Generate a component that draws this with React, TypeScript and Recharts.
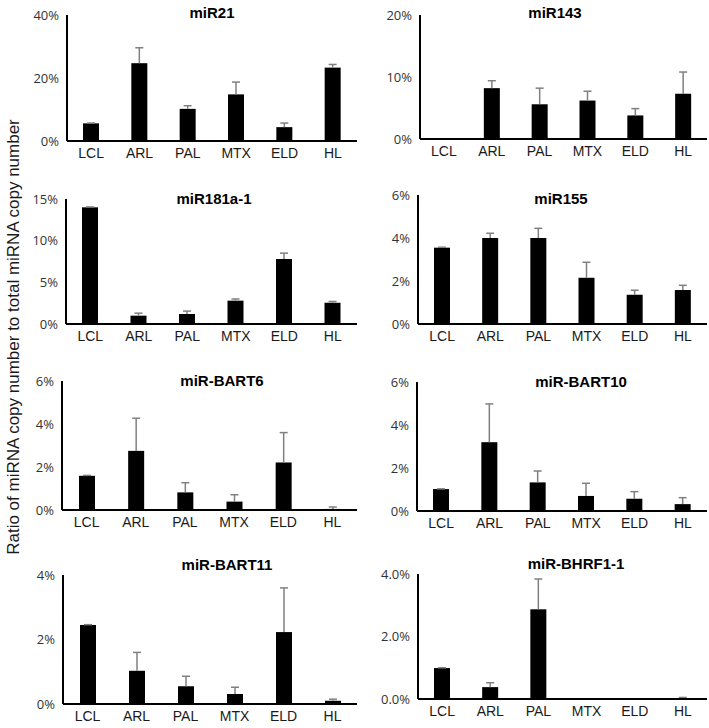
import React from "react"
import { Bar, BarChart, XAxis, YAxis } from "recharts"

const categories = ["LCL", "ARL", "PAL", "MTX", "ELD", "HL"]

// mean ratio (%) and upper error (SD, %) per cell line
const miR21 = [5.6, 24.7, 10.2, 14.8, 4.4, 23.3]
const miR21Err = [0.1, 4.9, 1.0, 3.9, 1.3, 1.0]
const miR143 = [0, 8.2, 5.6, 6.2, 3.8, 7.3]
const miR143Err = [0, 1.2, 2.6, 1.5, 1.1, 3.5]
const miR181a1 = [14.0, 1.0, 1.2, 2.8, 7.8, 2.55]
const miR181a1Err = [0.05, 0.3, 0.35, 0.2, 0.7, 0.15]
const miR155 = [3.55, 4.0, 4.0, 2.15, 1.36, 1.58]
const miR155Err = [0.02, 0.22, 0.45, 0.72, 0.21, 0.22]
const bart6 = [1.59, 2.75, 0.82, 0.39, 2.21, 0.05]
const bart6Err = [0.02, 1.52, 0.45, 0.32, 1.39, 0.09]
const bart10 = [1.02, 3.2, 1.33, 0.7, 0.57, 0.32]
const bart10Err = [0.01, 1.78, 0.53, 0.59, 0.33, 0.3]
const bart11 = [2.45, 1.03, 0.55, 0.31, 2.23, 0.1]
const bart11Err = [0.01, 0.57, 0.31, 0.21, 1.37, 0.05]
const bhrf1 = [0.99, 0.38, 2.87, 0, 0, 0.02]
const bhrf1Err = [0.01, 0.14, 0.97, 0, 0, 0.03]

const ticks40 = [0, 20, 40]
const ticks20 = [0, 10, 20]
const ticks15 = [0, 5, 10, 15]
const ticks6 = [0, 2, 4, 6]
const ticks4 = [0, 2, 4]

const panels = [
  { title: "miR21", values: miR21, errs: miR21Err, ticks: ticks40, digits: 0 },
  { title: "miR143", values: miR143, errs: miR143Err, ticks: ticks20, digits: 0 },
  { title: "miR181a-1", values: miR181a1, errs: miR181a1Err, ticks: ticks15, digits: 0 },
  { title: "miR155", values: miR155, errs: miR155Err, ticks: ticks6, digits: 0 },
  { title: "miR-BART6", values: bart6, errs: bart6Err, ticks: ticks6, digits: 0 },
  { title: "miR-BART10", values: bart10, errs: bart10Err, ticks: ticks6, digits: 0 },
  { title: "miR-BART11", values: bart11, errs: bart11Err, ticks: ticks4, digits: 0 },
  { title: "miR-BHRF1-1", values: bhrf1, errs: bhrf1Err, ticks: ticks4, digits: 1 },
]

// plot box of each panel on the page: left, right, top (max tick), zero line, title centre
const layout = [
  { left: 67, right: 357, top: 15, zero: 141, tx: 212, ty: 12 },
  { left: 420, right: 707, top: 15, zero: 139, tx: 555, ty: 12 },
  { left: 66, right: 357, top: 199, zero: 324, tx: 214, ty: 198 },
  { left: 418, right: 707, top: 195, zero: 324, tx: 561, ty: 198 },
  { left: 62, right: 357, top: 381, zero: 510, tx: 222, ty: 380 },
  { left: 417, right: 707, top: 382, zero: 511, tx: 581, ty: 381 },
  { left: 63, right: 357, top: 575, zero: 704, tx: 227, ty: 564 },
  { left: 418, right: 707, top: 574, zero: 699, tx: 576, ty: 563 },
]

const Y_AXIS_W = 50
const TOP_PAD = 10
const X_AXIS_H = 28

// bar plus an upward-only error whisker
const BarWithError = (props: any) => {
  const { x, y, width, height, payload } = props
  const v = payload.v
  const e = payload.e
  const cx = x + width / 2
  let whisker = null
  if (v > 0 && e > 0) {
    const top = y - (e * height) / v
    whisker = (
      <g stroke="#808080" strokeWidth={1.5}>
        <line x1={cx} y1={y} x2={cx} y2={top} />
        <line x1={cx - 4} y1={top} x2={cx + 4} y2={top} />
      </g>
    )
  }
  return (
    <g>
      {height > 0 && <rect x={x} y={y} width={width} height={height} fill="#000" />}
      {whisker}
    </g>
  )
}

function Panel({ p, l }: { p: (typeof panels)[number]; l: (typeof layout)[number] }) {
  const data = categories.map((c, i) => ({ c, v: p.values[i], e: p.errs[i] }))
  const max = p.ticks[p.ticks.length - 1]
  const plotH = l.zero - l.top
  return (
    <>
      <div
        style={{
          position: "absolute",
          left: l.left - Y_AXIS_W,
          top: l.top - TOP_PAD,
        }}
      >
        <BarChart
          width={Y_AXIS_W + l.right - l.left}
          height={TOP_PAD + plotH + X_AXIS_H}
          data={data}
          margin={{ top: TOP_PAD, right: 0, left: 0, bottom: 0 }}
          barCategoryGap={0}
        >
          <XAxis
            dataKey="c"
            height={X_AXIS_H}
            interval={0}
            tickLine={false}
            tickSize={0}
            tickMargin={7}
            axisLine={{ stroke: "#000", strokeWidth: 2 }}
            tick={{ fill: "#1a1a1a", fontSize: 14, fontFamily: "Liberation Sans, Arial, sans-serif" }}
          />
          <YAxis
            width={Y_AXIS_W}
            domain={[0, max]}
            ticks={p.ticks}
            allowDataOverflow
            tickLine={false}
            tickSize={0}
            tickMargin={8}
            axisLine={{ stroke: "#000", strokeWidth: 2 }}
            tickFormatter={(t: number) => `${t.toFixed(p.digits)}%`}
            tick={{ fill: "#333", fontSize: 13, fontFamily: "Open Sans, sans-serif" }}
          />
          <Bar dataKey="v" barSize={16} shape={BarWithError} isAnimationActive={false} />
        </BarChart>
      </div>
      <div
        style={{
          position: "absolute",
          left: l.tx,
          top: l.ty,
          transform: "translate(-50%, -50%)",
          fontFamily: "Liberation Sans, Arial, sans-serif",
          fontWeight: "bold",
          fontSize: 15,
          lineHeight: 1,
          whiteSpace: "nowrap",
          color: "#000",
        }}
      >
        {p.title}
      </div>
    </>
  )
}

export default function App() {
  return (
    <div
      style={{
        position: "absolute",
        left: 0,
        top: 0,
        width: 709,
        height: 728,
        background: "#fff",
        overflow: "hidden",
      }}
    >
      {panels.map((p, i) => (
        <Panel key={p.title} p={p} l={layout[i]} />
      ))}
      <div
        style={{
          position: "absolute",
          left: 13,
          top: 337,
          transform: "translate(-50%, -50%) rotate(-90deg)",
          fontFamily: "Liberation Sans, Arial, sans-serif",
          fontSize: 17,
          lineHeight: 1,
          whiteSpace: "nowrap",
          color: "#1a1a1a",
        }}
      >
        Ratio of miRNA copy number to total miRNA copy number
      </div>
    </div>
  )
}
